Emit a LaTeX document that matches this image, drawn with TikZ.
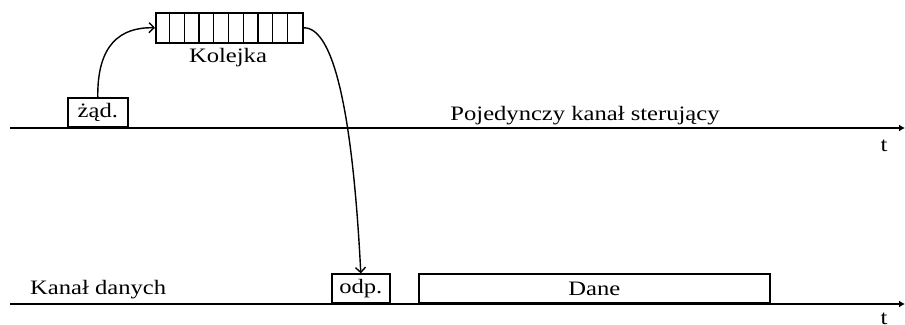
\documentclass[tikz,border=0pt]{standalone}
\usepackage{fontspec}
\setmainfont{Liberation Serif}[FakeStretch=1.2]
\usetikzlibrary{arrows.meta}
\begin{document}
\begin{tikzpicture}[x=1pt,y=-1pt,
  lbl/.style={font=\fontsize{20.5}{22}\selectfont, inner sep=0pt},
  msgbox/.style={draw, line width=1.6pt, minimum height=29pt, inner sep=0pt, anchor=south west, font=\fontsize{20.5}{22}\selectfont},
  axis/.style={line width=1.7pt, -{Latex[length=6pt,width=7pt]}},
  link/.style={line width=1.4pt, -{Straight Barb[length=5pt,width=10pt]}}]
\useasboundingbox (0,0) rectangle (905,324);
% axes
\coordinate (a1) at (10,128);
\coordinate (a2) at (905,128);
\coordinate (b1) at (10,304);
\coordinate (b2) at (905,304);
\draw[axis] (a1) -- (a2);
\draw[axis] (b1) -- (b2);
\node[lbl] (t1) at (884,146) {t};
\node[lbl] (t2) at (884,319) {t};
\node[lbl] (ctrl) at (585,116) {Pojedynczy kanał sterujący};
\node[lbl, anchor=west] (data) at (30,290) {Kanał danych};
% queue
\node[draw, line width=1.6pt, minimum width=147pt, minimum height=30pt, inner sep=0pt, anchor=north west] (q) at (155,12) {};
\foreach \i in {1,...,9} {
  \draw[line width=1.3pt] ([xshift=\i*14.7pt]q.north west) -- ([xshift=\i*14.7pt]q.south west);
}
\node[lbl] (kol) at (228,58) {Kolejka};
% request
\node[msgbox, minimum width=60pt] (req) at (67,128) {żąd.};
% response and data
\node[msgbox, minimum width=58pt] (odp) at (331,304) {odp.};
\node[msgbox, minimum width=351pt] (dane) at (418,304) {Dane};
% links
\draw[link] (req.north) .. controls (97,45) and (120,27) .. (q.west);
\draw[link] (q.east) .. controls (335,27) and (353,120) .. (odp.north);
\end{tikzpicture}
\end{document}
